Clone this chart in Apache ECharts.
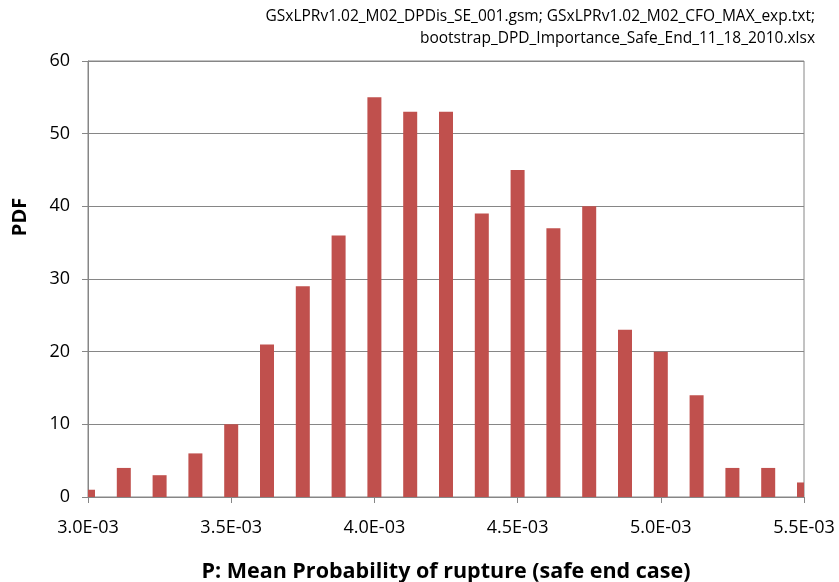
<!DOCTYPE html>
<html><head><meta charset="utf-8">
<script src="https://cdn.jsdelivr.net/npm/echarts@6/dist/echarts.min.js"></script>
<style>html,body{margin:0;padding:0;background:#fff}#c{width:839px;height:582px}</style>
</head><body><div id="c"></div>
<script>
const binStart = 0.003;
const binStep = 0.000125;
const pdfValues = [1,4,3,6,10,21,29,36,55,53,53,39,45,37,40,23,20,14,4,4,2];
const titleLines = ["GSxLPRv1.02_M02_DPDis_SE_001.gsm; GSxLPRv1.02_M02_CFO_MAX_exp.txt;","bootstrap_DPD_Importance_Safe_End_11_18_2010.xlsx"];
const xTitle = "P: Mean Probability of rupture (safe end case)";
const yTitle = "PDF";
const FONT = "'Open Sans', sans-serif";

const data = pdfValues.map((v,i)=>[+(binStart + i*binStep).toFixed(6), v]);
function fmt(v){
  const s = v.toExponential(1).toUpperCase();
  const m = s.match(/^(.*)E([+-])(\d+)$/);
  let e = m[3]; if (e.length<2) e = '0'+e;
  return m[1]+'E'+m[2]+e;
}
const chart = echarts.init(document.getElementById('c'));
chart.setOption({
  animation:false,
  graphic:[
    {type:'text', right:24, top:9, style:{text:titleLines[0], font:"15.5px "+FONT, fill:'#000'}},
    {type:'text', right:24, top:31, style:{text:titleLines[1], font:"15.5px "+FONT, fill:'#000'}},
    {type:'text', x:20, y:217, rotation:Math.PI/2, style:{text:yTitle, font:"bold 20px "+FONT, fill:'#000', textAlign:'center', textVerticalAlign:'middle'}}
  ],
  grid:{left:88, right:35, top:61, bottom:85, outerBoundsMode:'none', containLabel:false, show:true, borderColor:'#868686', borderWidth:1},
  xAxis:{type:'value', min:0.003, max:0.0055, interval:0.0005,
    name:xTitle, nameLocation:'middle', nameGap:64,
    nameTextStyle:{fontFamily:FONT, fontSize:21.5, fontWeight:'bold', color:'#000'},
    axisLine:{lineStyle:{color:'#868686'}}, axisTick:{show:true, length:6, lineStyle:{color:'#868686'}},
    axisLabel:{formatter:fmt, fontFamily:FONT, fontSize:18, color:'#000', margin:22},
    splitLine:{show:false}},
  yAxis:{type:'value', min:0, max:60, interval:10,
    axisLine:{show:true, lineStyle:{color:'#868686'}}, axisTick:{show:true, length:6, lineStyle:{color:'#868686'}},
    axisLabel:{fontFamily:FONT, fontSize:18, color:'#000', margin:18},
    splitLine:{show:true, lineStyle:{color:'#868686'}}},
  series:[{type:'custom', data:data, encode:{x:0,y:1},
    renderItem:function(params, api){
      const x = api.value(0), y = api.value(1);
      const p0 = api.coord([x, 0]), p1 = api.coord([x, y]);
      const w = 14;
      const cs = params.coordSys;
      const rect = echarts.graphic.clipRectByRect({x:p0[0]-w/2, y:p1[1], width:w, height:p0[1]-p1[1]},
        {x:cs.x, y:cs.y, width:cs.width, height:cs.height});
      return rect && {type:'rect', shape:rect, style:{fill:'#C0504D'}};
    }}]
});
</script></body></html>
